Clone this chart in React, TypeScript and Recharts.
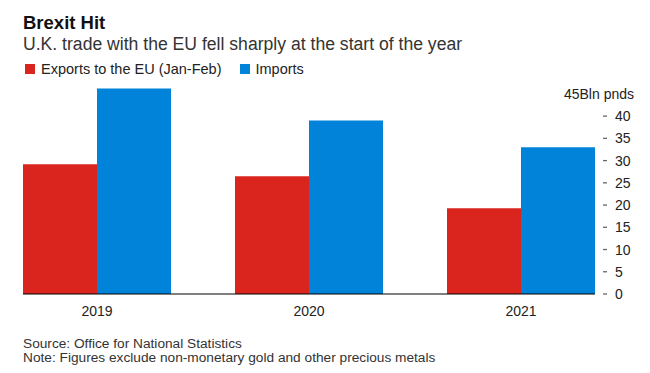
import React from "react";
import { BarChart, Bar, XAxis, YAxis } from "recharts";

const years = ["2019", "2020", "2021"];
const exportsEU = [29.2, 26.5, 19.3];
const imports = [46.2, 39.0, 33.0];
const yTicks = [0, 5, 10, 15, 20, 25, 30, 35, 40, 45];

const RED = "#da251e";
const BLUE = "#0083d9";
const FONT = '"Liberation Sans", Arial, Helvetica, sans-serif';

const data = years.map((year, i) => ({
  year,
  exports: exportsEU[i],
  imports: imports[i],
}));

const YTick = (props: any) => {
  const { x, y, payload } = props;
  if (payload.value === 45) {
    return (
      <text x={x + 39} y={y} textAnchor="end" dominantBaseline="central" fontSize={14} fill="#222" fontFamily={FONT}>
        45Bln pnds
      </text>
    );
  }
  return (
    <g>
      <line x1={x + 8} x2={x + 12} y1={y} y2={y} stroke="#666" strokeWidth={1.3} />
      <text x={x + 20} y={y} dominantBaseline="central" fontSize={14} fill="#222" fontFamily={FONT}>
        {payload.value}
      </text>
    </g>
  );
};

const LegendItem = ({ color, label }: { color: string; label: string }) => (
  <span style={{ display: "inline-flex", alignItems: "center", marginRight: 18 }}>
    <span style={{ width: 10, height: 10, background: color, display: "inline-block", marginRight: 6 }} />
    {label}
  </span>
);

export default function App() {
  return (
    <div style={{ position: "absolute", left: 0, top: 0, width: 650, height: 373, background: "#fff", fontFamily: FONT }}>
      <div style={{ position: "absolute", left: 23, top: 12, fontSize: 18.5, fontWeight: 700, color: "#111" }}>
        Brexit Hit
      </div>
      <div style={{ position: "absolute", left: 23, top: 34, fontSize: 17.6, color: "#333" }}>
        U.K. trade with the EU fell sharply at the start of the year
      </div>
      <div style={{ position: "absolute", left: 25, top: 61, fontSize: 14.5, color: "#222", display: "flex" }}>
        <LegendItem color={RED} label="Exports to the EU (Jan-Feb)" />
        <LegendItem color={BLUE} label="Imports" />
      </div>
      <BarChart
        width={650}
        height={373}
        data={data}
        margin={{ top: 85, right: 0, bottom: 49, left: 23 }}
        barGap={0}
        barSize={74}
      >
        <XAxis
          dataKey="year"
          height={30}
          padding={{ left: -32, right: -32 }}
          axisLine={{ stroke: "#000", strokeWidth: 1 }}
          tickLine={false}
          tickMargin={6}
          tick={{ fontSize: 14, fill: "#222", fontFamily: FONT }}
        />
        <YAxis
          orientation="right"
          width={55}
          domain={[0, 47]}
          ticks={yTicks}
          interval={0}
          axisLine={false}
          tickLine={false}
          tickSize={0}
          tickMargin={0}
          tick={<YTick />}
        />
        <Bar dataKey="exports" fill={RED} isAnimationActive={false} />
        <Bar dataKey="imports" fill={BLUE} isAnimationActive={false} />
      </BarChart>
      <div style={{ position: "absolute", left: 23, top: 337, fontSize: 13.7, color: "#333", lineHeight: "14px" }}>
        Source: Office for National Statistics
        <br />
        Note: Figures exclude non-monetary gold and other precious metals
      </div>
    </div>
  );
}
